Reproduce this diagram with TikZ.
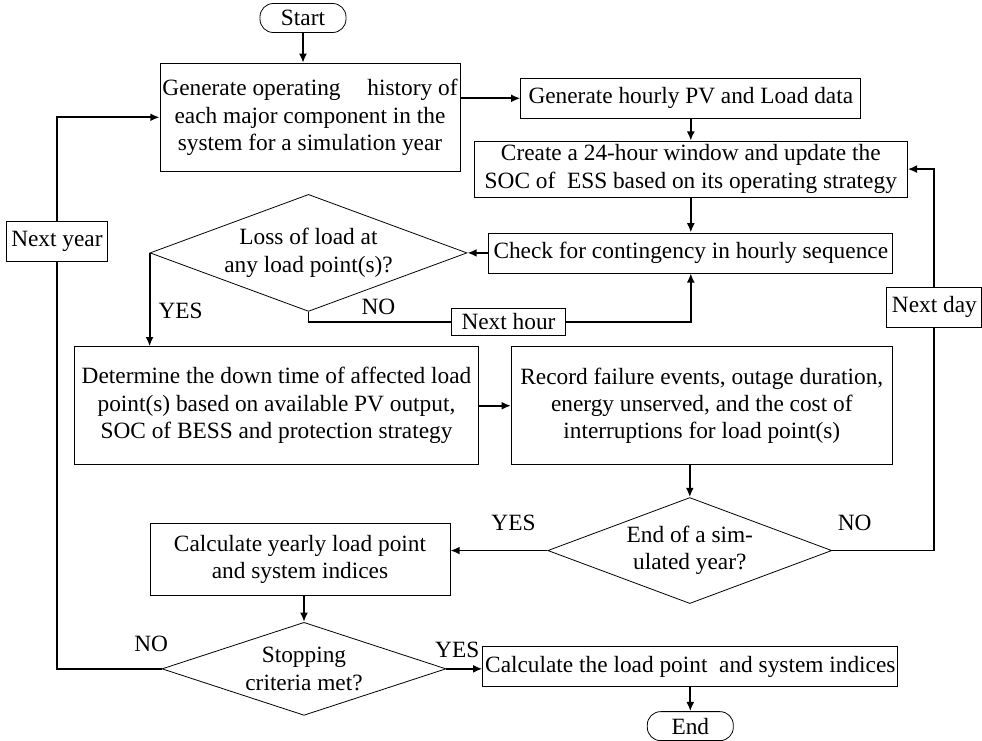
\documentclass[tikz,border=0pt]{standalone}
\usepackage{fontspec}
\setmainfont{Liberation Serif}
\usepackage{tikz}
\usetikzlibrary{arrows.meta,positioning,shapes.geometric}
\tikzset{
    %Define standard arrow tip
    >={Latex[length=7pt,width=6pt]},
    %Define style for process boxes
    procbox/.style={
           rectangle,
           draw=black, line width=0.6pt,
           inner xsep=1pt, inner ysep=2pt,
           align=center},
    %Define style for decisions
    decision/.style={
           diamond,
           aspect=2.8,
           draw=black, line width=0.6pt,
           inner sep=-4pt,
           align=center},
    %Define style for start and end
    terminal/.style={
           rectangle,
           rounded corners=10pt,
           draw=black, line width=0.6pt,
           minimum width=64.5pt,
           minimum height=21.75pt},
    %Define style for small boxes on the lines
    tagbox/.style={
           rectangle,
           fill=white,
           draw=black, line width=0.6pt,
           minimum height=30pt},
    % Define label style
    lbl/.style={
           inner sep=1pt}
}
\begin{document}
\begin{tikzpicture}[->,line width=1.4pt,font=\fontsize{17.5}{20.6}\selectfont]
\useasboundingbox (0,0) rectangle (736.5pt,-555pt);
 %nodes
\node[terminal] (start) at (227.25pt,-13.5pt) {Start};
\node[procbox, minimum width=225pt, minimum height=81pt, below=22.5pt of start, xshift=5.25pt] (gen)
    {Generate operating\hspace{0.9em} history of\\each major component in the\\system for a simulation year};
\node[procbox, minimum width=255pt, minimum height=30pt, right=45pt of gen, yshift=14.25pt] (pv)
    {Generate hourly PV and Load data};
\node[procbox, minimum width=324.75pt, minimum height=42pt, below=16.5pt of pv] (create)
    {Create a 24-hour window and update the\\SOC of\ \ ESS based on its operating strategy};
\node[procbox, minimum width=303pt, minimum height=30pt, below=26.25pt of create] (check)
    {Check for contingency in hourly sequence};
\node[decision, minimum width=237.75pt, minimum height=87.75pt, left=15.75pt of check] (loss)
    {Loss of load at\\any load point(s)?};
\node[tagbox, minimum width=85.5pt, minimum height=20.25pt, inner ysep=0pt] (nexthour)
    at ([shift={(150pt,-7.5pt)}]loss.south) {Next hour};
\node[procbox, minimum width=303pt, minimum height=88.5pt, below=25.9pt of loss, xshift=-24pt] (determine)
    {Determine the down time of affected load\\point(s) based on available PV output,\\SOC of BESS and protection strategy};
\node[procbox, minimum width=285.75pt, minimum height=88.5pt, right=24pt of determine] (record)
    {Record failure events, outage duration,\\energy unserved, and the cost of\\interruptions for load point(s)};
\node[decision, minimum width=213pt, minimum height=79.5pt, below=24pt of record, xshift=-9pt] (endyear)
    {End of a sim-\\ulated year?};
\node[tagbox, minimum width=71.25pt] (nextday)
    at ([shift={(20pt,-103.5pt)}]create.east) {Next day};
\node[procbox, minimum width=225pt, minimum height=54pt, left=72.75pt of endyear, yshift=-6.75pt] (yearly)
    {Calculate yearly load point\\and system indices};
\node[decision, minimum width=213pt, minimum height=69.75pt, aspect=3, below=19.5pt of yearly, xshift=3pt] (stop)
    {Stopping\\criteria met?};
\node[tagbox, minimum width=74.25pt] (nextyear)
    at ([shift={(-77pt,-93pt)}]gen.west) {Next year};
\node[procbox, minimum width=311.25pt, minimum height=30pt, right=27pt of stop, yshift=1.5pt] (final)
    {Calculate the load point\ \ and system indices};
\node[terminal, below=18pt of final] (end) {End};

 %connectors
\draw (start.south) -- (start.south |- gen.north);
\draw (pv.west -| gen.east) -- (pv.west);
\draw (pv.south) -- (pv.south |- create.north);
\draw (create.south) -- (create.south |- check.north);
\draw (check.west) -- (loss.east);
\draw[-] (loss.south) |- node[lbl, above=3.5pt, pos=0.745] {NO} (nexthour.west);
\draw (nexthour.east) -| (check.south);
\draw (loss.west) -- node[lbl, right=5pt, pos=0.62] {YES} (loss.west |- determine.north);
\draw (determine) -- (record);
\draw (endyear.north |- record.south) -- (endyear.north);
\draw (endyear.west) -- node[lbl, above=13pt, pos=0.35] {YES} (endyear.west -| yearly.east);
\draw[-] (endyear.east) -| node[lbl, above=13pt, pos=0.11] {NO} (nextday.south);
\draw (nextday.north) |- (create.east);
\draw (yearly.south -| stop.north) -- (stop.north);
\draw[-] (stop.west) -| node[lbl, above=11pt, pos=0.05] {NO} (nextyear.south);
\draw (nextyear.north) |- (gen.west);
\draw (stop.east) -- node[lbl, above=6.5pt, pos=0.3] {YES} (stop.east -| final.west);
\draw (final) -- (end);
\end{tikzpicture}
\end{document}
